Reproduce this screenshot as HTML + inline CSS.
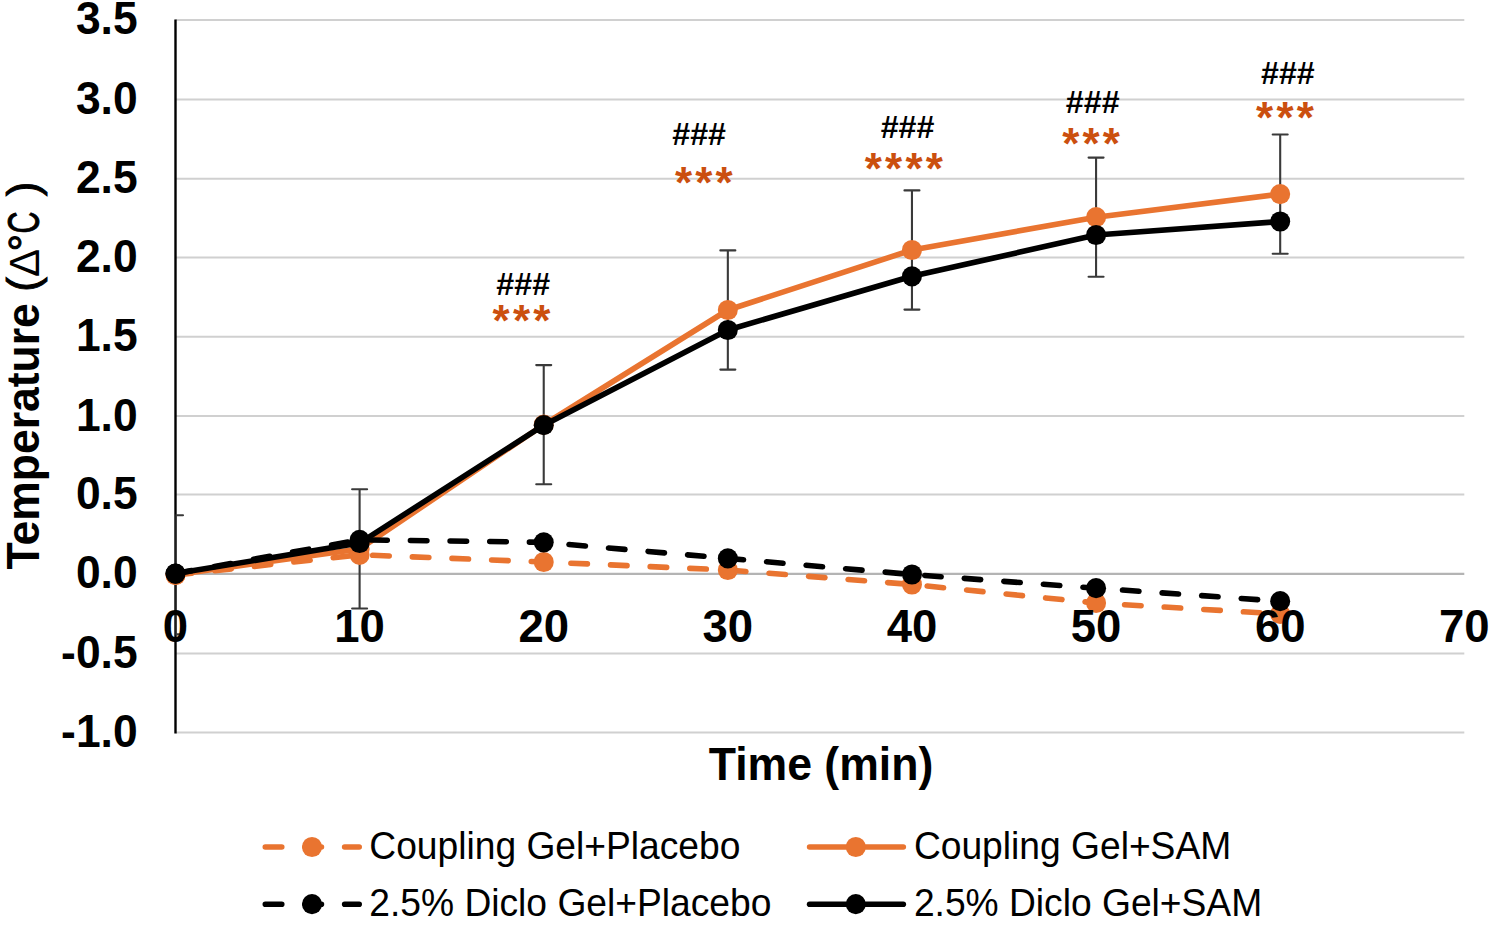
<!DOCTYPE html><html><head><meta charset="utf-8"><title>Temperature chart</title><style>html,body{margin:0;padding:0;background:#fff;overflow:hidden;}svg{display:block;}text{font-family:"Liberation Sans", sans-serif;}</style></head><body>
<svg width="1495" height="925" viewBox="0 0 1495 925">
<defs><clipPath id="plot"><rect x="175.5" y="0" width="1300" height="732"/></clipPath></defs>
<rect width="1495" height="925" fill="#fff"/>
<line x1="175.5" y1="732.50" x2="1464.3" y2="732.50" stroke="#D0D0D0" stroke-width="2"/>
<line x1="175.5" y1="653.40" x2="1464.3" y2="653.40" stroke="#D0D0D0" stroke-width="2"/>
<line x1="175.5" y1="494.60" x2="1464.3" y2="494.60" stroke="#D0D0D0" stroke-width="2"/>
<line x1="175.5" y1="416.10" x2="1464.3" y2="416.10" stroke="#D0D0D0" stroke-width="2"/>
<line x1="175.5" y1="336.70" x2="1464.3" y2="336.70" stroke="#D0D0D0" stroke-width="2"/>
<line x1="175.5" y1="257.40" x2="1464.3" y2="257.40" stroke="#D0D0D0" stroke-width="2"/>
<line x1="175.5" y1="178.76" x2="1464.3" y2="178.76" stroke="#D0D0D0" stroke-width="2"/>
<line x1="175.5" y1="99.50" x2="1464.3" y2="99.50" stroke="#D0D0D0" stroke-width="2"/>
<line x1="175.5" y1="19.98" x2="1464.3" y2="19.98" stroke="#D0D0D0" stroke-width="2"/>
<line x1="175.5" y1="573.80" x2="1464.3" y2="573.80" stroke="#B4B4B4" stroke-width="2.2"/>
<line x1="175.5" y1="19.5" x2="175.5" y2="733.4" stroke="#000" stroke-width="2.4"/>
<text transform="translate(821.00 779.90) scale(1 1.020)" font-size="44.60" font-weight="bold" text-anchor="middle" fill="#000">Time (min)</text>
<g transform="rotate(-90)">
<text transform="translate(-569.40 39.40) scale(1 1.02)" font-size="44.50" font-weight="bold">Temperature</text>
<text transform="translate(-291.80 37.60) scale(1 1.02)" font-size="44.00" font-weight="normal" stroke="#000" stroke-width="0.9">(</text>
<text transform="translate(-277.00 39.40) scale(1 1.02)" font-size="42.00" font-weight="normal">Δ</text>
<text transform="translate(-251.50 40.40) scale(1 1.02)" font-size="44.00" font-weight="normal" stroke="#000" stroke-width="0.9">°</text>
<text transform="translate(-233.40 39.40) scale(1 1.02)" font-size="44.00" font-weight="normal" textLength="22" lengthAdjust="spacingAndGlyphs" stroke="#000" stroke-width="0.9">C</text>
<text transform="translate(-196.30 37.60) scale(1 1.02)" font-size="44.00" font-weight="normal" stroke="#000" stroke-width="0.9">)</text>
</g>
<path d="M175.50 515.20V634.40M168.00 515.20H183.00M168.00 634.40H183.00M359.61 489.30V608.50M352.11 489.30H367.11M352.11 608.50H367.11M543.73 365.10V484.30M536.23 365.10H551.23M536.23 484.30H551.23M727.84 250.40V369.60M720.34 250.40H735.34M720.34 369.60H735.34M911.96 190.40V309.60M904.46 190.40H919.46M904.46 309.60H919.46M1096.07 157.60V276.80M1088.57 157.60H1103.57M1088.57 276.80H1103.57M1280.19 134.50V253.70M1272.69 134.50H1287.69M1272.69 253.70H1287.69" stroke="#3A3A3A" stroke-width="2.1" fill="none" stroke-linecap="round" clip-path="url(#plot)"/>
<polyline points="175.50,575.00 359.61,554.80 543.73,562.00 727.84,570.00 911.96,584.50 1096.07,603.00 1280.19,614.00" fill="none" stroke="#E97430" stroke-width="5.6" stroke-dasharray="16.47 23.2" stroke-linecap="round" stroke-linejoin="round"/>
<ellipse cx="175.50" cy="575.00" rx="10.00" ry="10.10" fill="#E97430"/><ellipse cx="359.61" cy="554.80" rx="10.00" ry="10.10" fill="#E97430"/><ellipse cx="543.73" cy="562.00" rx="10.00" ry="10.10" fill="#E97430"/><ellipse cx="727.84" cy="570.00" rx="10.00" ry="10.10" fill="#E97430"/><ellipse cx="911.96" cy="584.50" rx="10.00" ry="10.10" fill="#E97430"/><ellipse cx="1096.07" cy="603.00" rx="10.00" ry="10.10" fill="#E97430"/><ellipse cx="1280.19" cy="614.00" rx="10.00" ry="10.10" fill="#E97430"/>
<polyline points="175.50,574.80 359.61,548.90 543.73,424.70 727.84,310.00 911.96,250.00 1096.07,217.20 1280.19,194.10" fill="none" stroke="#E97430" stroke-width="5.6" stroke-linejoin="round" stroke-linecap="round"/>
<ellipse cx="175.50" cy="574.80" rx="10.00" ry="10.10" fill="#E97430"/><ellipse cx="359.61" cy="548.90" rx="10.00" ry="10.10" fill="#E97430"/><ellipse cx="543.73" cy="424.70" rx="10.00" ry="10.10" fill="#E97430"/><ellipse cx="727.84" cy="310.00" rx="10.00" ry="10.10" fill="#E97430"/><ellipse cx="911.96" cy="250.00" rx="10.00" ry="10.10" fill="#E97430"/><ellipse cx="1096.07" cy="217.20" rx="10.00" ry="10.10" fill="#E97430"/><ellipse cx="1280.19" cy="194.10" rx="10.00" ry="10.10" fill="#E97430"/>
<polyline points="175.50,573.60 359.61,539.80 543.73,542.30 727.84,558.40 911.96,574.50 1096.07,588.20 1280.19,601.20" fill="none" stroke="#000" stroke-width="5.6" stroke-dasharray="16.47 23.2" stroke-linecap="round" stroke-linejoin="round"/>
<ellipse cx="175.50" cy="573.60" rx="10.00" ry="10.10" fill="#000"/><ellipse cx="359.61" cy="539.80" rx="10.00" ry="10.10" fill="#000"/><ellipse cx="543.73" cy="542.30" rx="10.00" ry="10.10" fill="#000"/><ellipse cx="727.84" cy="558.40" rx="10.00" ry="10.10" fill="#000"/><ellipse cx="911.96" cy="574.50" rx="10.00" ry="10.10" fill="#000"/><ellipse cx="1096.07" cy="588.20" rx="10.00" ry="10.10" fill="#000"/><ellipse cx="1280.19" cy="601.20" rx="10.00" ry="10.10" fill="#000"/>
<polyline points="175.50,573.60 359.61,543.00 543.73,425.20 727.84,330.00 911.96,276.30 1096.07,235.00 1280.19,221.50" fill="none" stroke="#000" stroke-width="5.6" stroke-linejoin="round" stroke-linecap="round"/>
<ellipse cx="175.50" cy="573.60" rx="10.00" ry="10.10" fill="#000"/><ellipse cx="359.61" cy="543.00" rx="10.00" ry="10.10" fill="#000"/><ellipse cx="543.73" cy="425.20" rx="10.00" ry="10.10" fill="#000"/><ellipse cx="727.84" cy="330.00" rx="10.00" ry="10.10" fill="#000"/><ellipse cx="911.96" cy="276.30" rx="10.00" ry="10.10" fill="#000"/><ellipse cx="1096.07" cy="235.00" rx="10.00" ry="10.10" fill="#000"/><ellipse cx="1280.19" cy="221.50" rx="10.00" ry="10.10" fill="#000"/>
<text transform="translate(137.60 746.90) scale(1 1.050)" font-size="44.40" font-weight="bold" text-anchor="end" fill="#000">-1.0</text>
<text transform="translate(137.60 667.80) scale(1 1.050)" font-size="44.40" font-weight="bold" text-anchor="end" fill="#000">-0.5</text>
<text transform="translate(137.60 588.20) scale(1 1.050)" font-size="44.40" font-weight="bold" text-anchor="end" fill="#000">0.0</text>
<text transform="translate(137.60 509.00) scale(1 1.050)" font-size="44.40" font-weight="bold" text-anchor="end" fill="#000">0.5</text>
<text transform="translate(137.60 430.50) scale(1 1.050)" font-size="44.40" font-weight="bold" text-anchor="end" fill="#000">1.0</text>
<text transform="translate(137.60 351.10) scale(1 1.050)" font-size="44.40" font-weight="bold" text-anchor="end" fill="#000">1.5</text>
<text transform="translate(137.60 271.80) scale(1 1.050)" font-size="44.40" font-weight="bold" text-anchor="end" fill="#000">2.0</text>
<text transform="translate(137.60 193.16) scale(1 1.050)" font-size="44.40" font-weight="bold" text-anchor="end" fill="#000">2.5</text>
<text transform="translate(137.60 113.90) scale(1 1.050)" font-size="44.40" font-weight="bold" text-anchor="end" fill="#000">3.0</text>
<text transform="translate(137.60 34.38) scale(1 1.050)" font-size="44.40" font-weight="bold" text-anchor="end" fill="#000">3.5</text>
<text transform="translate(175.50 641.50) scale(1 1.000)" font-size="45.50" font-weight="bold" text-anchor="middle" fill="#000">0</text>
<text transform="translate(359.61 641.50) scale(1 1.000)" font-size="45.50" font-weight="bold" text-anchor="middle" fill="#000">10</text>
<text transform="translate(543.73 641.50) scale(1 1.000)" font-size="45.50" font-weight="bold" text-anchor="middle" fill="#000">20</text>
<text transform="translate(727.84 641.50) scale(1 1.000)" font-size="45.50" font-weight="bold" text-anchor="middle" fill="#000">30</text>
<text transform="translate(911.96 641.50) scale(1 1.000)" font-size="45.50" font-weight="bold" text-anchor="middle" fill="#000">40</text>
<text transform="translate(1096.07 641.50) scale(1 1.000)" font-size="45.50" font-weight="bold" text-anchor="middle" fill="#000">50</text>
<text transform="translate(1280.19 641.50) scale(1 1.000)" font-size="45.50" font-weight="bold" text-anchor="middle" fill="#000">60</text>
<text transform="translate(1464.30 641.50) scale(1 1.000)" font-size="45.50" font-weight="bold" text-anchor="middle" fill="#000">70</text>
<text x="496.36" y="294.80" font-size="32.2" font-weight="bold">###</text>
<text x="672.26" y="144.50" font-size="32.2" font-weight="bold">###</text>
<text x="880.66" y="137.60" font-size="32.2" font-weight="bold">###</text>
<text x="1065.86" y="112.60" font-size="32.2" font-weight="bold">###</text>
<text x="1261.06" y="83.90" font-size="32.2" font-weight="bold">###</text>
<text x="492.60" y="336.30" font-size="44" font-weight="bold" fill="#CB4F0F">*</text>
<text x="512.90" y="336.30" font-size="44" font-weight="bold" fill="#CB4F0F">*</text>
<text x="533.20" y="336.30" font-size="44" font-weight="bold" fill="#CB4F0F">*</text>
<text x="675.00" y="197.70" font-size="44" font-weight="bold" fill="#CB4F0F">*</text>
<text x="695.30" y="197.70" font-size="44" font-weight="bold" fill="#CB4F0F">*</text>
<text x="715.60" y="197.70" font-size="44" font-weight="bold" fill="#CB4F0F">*</text>
<text x="864.80" y="183.90" font-size="44" font-weight="bold" fill="#CB4F0F">*</text>
<text x="885.10" y="183.90" font-size="44" font-weight="bold" fill="#CB4F0F">*</text>
<text x="905.40" y="183.90" font-size="44" font-weight="bold" fill="#CB4F0F">*</text>
<text x="925.70" y="183.90" font-size="44" font-weight="bold" fill="#CB4F0F">*</text>
<text x="1062.20" y="159.40" font-size="44" font-weight="bold" fill="#CB4F0F">*</text>
<text x="1082.50" y="159.40" font-size="44" font-weight="bold" fill="#CB4F0F">*</text>
<text x="1102.80" y="159.40" font-size="44" font-weight="bold" fill="#CB4F0F">*</text>
<text x="1256.10" y="133.30" font-size="44" font-weight="bold" fill="#CB4F0F">*</text>
<text x="1276.40" y="133.30" font-size="44" font-weight="bold" fill="#CB4F0F">*</text>
<text x="1296.70" y="133.30" font-size="44" font-weight="bold" fill="#CB4F0F">*</text>
<line x1="265.30" y1="847.00" x2="359.20" y2="847.00" stroke="#E97430" stroke-width="5.6" stroke-dasharray="16.47 23.2" stroke-linecap="round"/><ellipse cx="312.00" cy="847.00" rx="10.00" ry="10.10" fill="#E97430"/>
<line x1="265.30" y1="904.20" x2="359.20" y2="904.20" stroke="#000" stroke-width="5.6" stroke-dasharray="16.47 23.2" stroke-linecap="round"/><ellipse cx="312.00" cy="904.20" rx="10.00" ry="10.10" fill="#000"/>
<line x1="809.60" y1="847.00" x2="903.30" y2="847.00" stroke="#E97430" stroke-width="5.6" stroke-linecap="round"/><ellipse cx="855.80" cy="847.00" rx="10.00" ry="10.10" fill="#E97430"/>
<line x1="809.60" y1="904.20" x2="903.30" y2="904.20" stroke="#000" stroke-width="5.6" stroke-linecap="round"/><ellipse cx="855.80" cy="904.20" rx="10.00" ry="10.10" fill="#000"/>
<text transform="translate(369.30 858.90) scale(1 1.030)" font-size="37.20" font-weight="normal" text-anchor="start" fill="#000">Coupling Gel+Placebo</text>
<text transform="translate(369.30 916.10) scale(1 1.030)" font-size="37.20" font-weight="normal" text-anchor="start" fill="#000">2.5% Diclo Gel+Placebo</text>
<text transform="translate(913.90 858.90) scale(1 1.030)" font-size="37.20" font-weight="normal" text-anchor="start" fill="#000">Coupling Gel+SAM</text>
<text transform="translate(913.90 916.10) scale(1 1.030)" font-size="37.20" font-weight="normal" text-anchor="start" fill="#000">2.5% Diclo Gel+SAM</text>
</svg></body></html>
